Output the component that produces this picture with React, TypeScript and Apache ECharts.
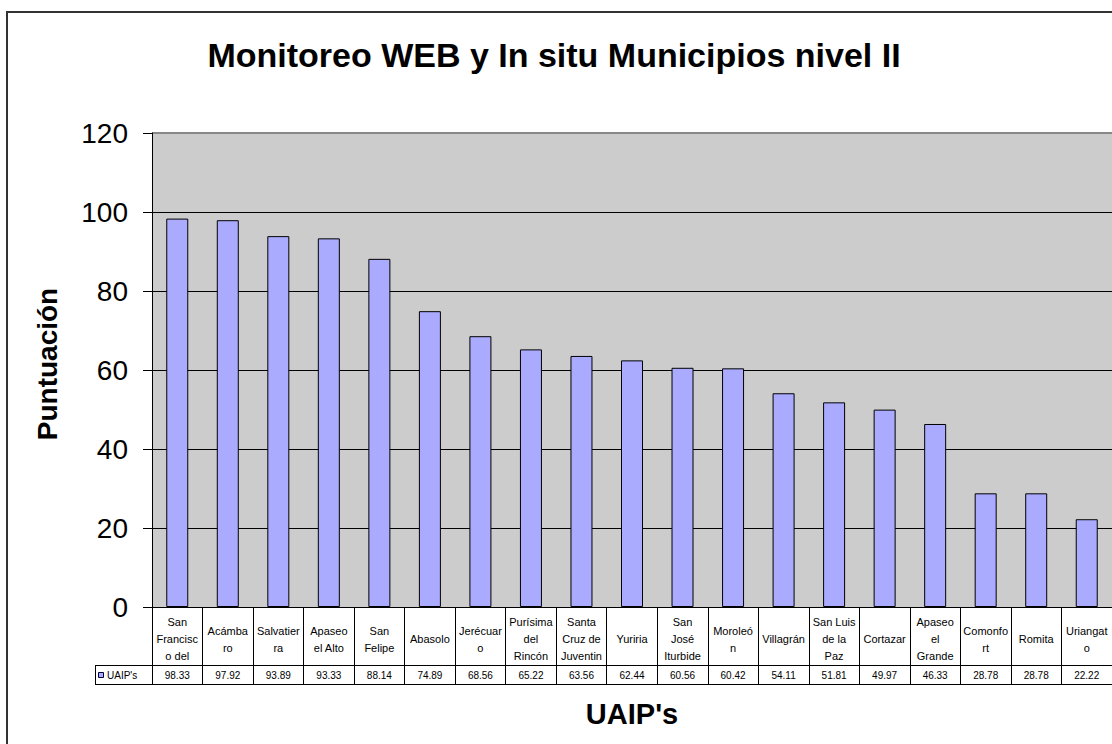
import React, { useEffect, useRef } from "react";
import * as echarts from "echarts";

const categories = [
  "San\nFrancisc\no del",
  "Acámba\nro",
  "Salvatier\nra",
  "Apaseo\nel Alto",
  "San\nFelipe",
  "Abasolo",
  "Jerécuar\no",
  "Purísima\ndel\nRincón",
  "Santa\nCruz de\nJuventin",
  "Yuriria",
  "San\nJosé\nIturbide",
  "Moroleó\nn",
  "Villagrán",
  "San Luis\nde la\nPaz",
  "Cortazar",
  "Apaseo\nel\nGrande",
  "Comonfo\nrt",
  "Romita",
  "Uriangat\no",
];

const values = [
  98.33, 97.92, 93.89, 93.33, 88.14, 74.89, 68.56, 65.22, 63.56, 62.44, 60.56,
  60.42, 54.11, 51.81, 49.97, 46.33, 28.78, 28.78, 22.22,
];

const seriesName = "UAIP's";
const yMin = 0;
const yMax = 120;
const yInterval = 20;

const FONT = "'Liberation Sans', Arial, sans-serif";

export default function App() {
  const ref = useRef<HTMLDivElement>(null);

  useEffect(() => {
    if (!ref.current) return;
    const chart = echarts.init(ref.current, null, { renderer: "svg" });
    const gridPos = { left: 152, right: 0, top: 133, bottom: 137 };
    chart.setOption({
      animation: false,
      backgroundColor: "#ffffff",
      textStyle: { fontFamily: FONT },
      grid: [
        { ...gridPos, show: true, backgroundColor: "#CCCCCC", borderWidth: 0 },
        { ...gridPos, show: false },
      ],
      xAxis: [
        {
          type: "category",
          gridIndex: 0,
          data: categories,
          axisLine: { show: true, lineStyle: { color: "#000", width: 1 } },
          axisTick: {
            show: true,
            alignWithLabel: false,
            length: 77,
            lineStyle: { color: "#000", width: 1 },
          },
          axisLabel: {
            interval: 0,
            margin: 32,
            verticalAlign: "middle",
            fontSize: 11,
            lineHeight: 17,
            color: "#000",
            fontFamily: FONT,
          },
          splitLine: { show: false },
        },
        {
          type: "category",
          gridIndex: 1,
          data: values.map((v) => v.toFixed(2)),
          axisLine: { show: false },
          axisTick: { show: false },
          axisLabel: {
            interval: 0,
            margin: 68,
            verticalAlign: "middle",
            fontSize: 10,
            color: "#000",
            fontFamily: FONT,
          },
          splitLine: { show: false },
        },
      ],
      yAxis: [
        {
          type: "value",
          gridIndex: 0,
          min: yMin,
          max: yMax,
          interval: yInterval,
          axisLine: { show: true, lineStyle: { color: "#000", width: 1 } },
          axisTick: { show: true, length: 9, lineStyle: { color: "#000" } },
          axisLabel: {
            margin: 24,
            fontSize: 28,
            color: "#000",
            fontFamily: FONT,
          },
          splitLine: {
            show: true,
            showMaxLine: false,
            lineStyle: { color: "#000", width: 1 },
          },
        },
        {
          type: "value",
          gridIndex: 1,
          min: yMin,
          max: yMax,
          show: false,
        },
      ],
      series: [
        {
          name: seriesName,
          type: "bar",
          xAxisIndex: 0,
          yAxisIndex: 0,
          data: values,
          barWidth: 22,
          itemStyle: { color: "#AAAAFF", borderColor: "#000", borderWidth: 1 },
        },
      ],
      graphic: [
        {
          type: "rect",
          shape: { x: 7, y: 12, width: 1300, height: 900 },
          style: { fill: "none", stroke: "#333", lineWidth: 2 },
          silent: true,
        },
        {
          type: "line",
          shape: { x1: 152, y1: 133, x2: 1112, y2: 133 },
          style: { stroke: "#888", lineWidth: 2 },
          silent: true,
        },
        {
          type: "line",
          shape: { x1: 95, y1: 665.5, x2: 1112, y2: 665.5 },
          style: { stroke: "#000", lineWidth: 1 },
          silent: true,
        },
        {
          type: "line",
          shape: { x1: 95, y1: 684.5, x2: 1112, y2: 684.5 },
          style: { stroke: "#000", lineWidth: 1 },
          silent: true,
        },
        {
          type: "line",
          shape: { x1: 95.5, y1: 665, x2: 95.5, y2: 685 },
          style: { stroke: "#000", lineWidth: 1 },
          silent: true,
        },
        {
          type: "rect",
          shape: { x: 98.5, y: 672.5, width: 5, height: 5 },
          style: { fill: "#AAAAFF", stroke: "#000033", lineWidth: 1 },
          silent: true,
        },
        {
          type: "text",
          x: 107,
          y: 675,
          style: {
            text: seriesName,
            fontSize: 10,
            fontFamily: FONT,
            fill: "#000",
            verticalAlign: "middle",
            align: "left",
          },
          silent: true,
        },
        {
          type: "text",
          x: 554,
          y: 55,
          style: {
            text: "Monitoreo WEB y In situ Municipios nivel II",
            fontSize: 34,
            fontWeight: "bold",
            fontFamily: FONT,
            fill: "#000",
            align: "center",
            verticalAlign: "middle",
          },
          silent: true,
        },
        {
          type: "text",
          x: 47,
          y: 364,
          rotation: Math.PI / 2,
          style: {
            text: "Puntuación",
            fontSize: 28,
            fontWeight: "bold",
            fontFamily: FONT,
            fill: "#000",
            align: "center",
            verticalAlign: "middle",
          },
          silent: true,
        },
        {
          type: "text",
          x: 632,
          y: 714,
          style: {
            text: "UAIP's",
            fontSize: 29,
            fontWeight: "bold",
            fontFamily: FONT,
            fill: "#000",
            align: "center",
            verticalAlign: "middle",
          },
          silent: true,
        },
      ],
    });
    return () => chart.dispose();
  }, []);

  return (
    <div
      ref={ref}
      style={{ position: "absolute", left: 0, top: 0, width: 1112, height: 744 }}
    />
  );
}
